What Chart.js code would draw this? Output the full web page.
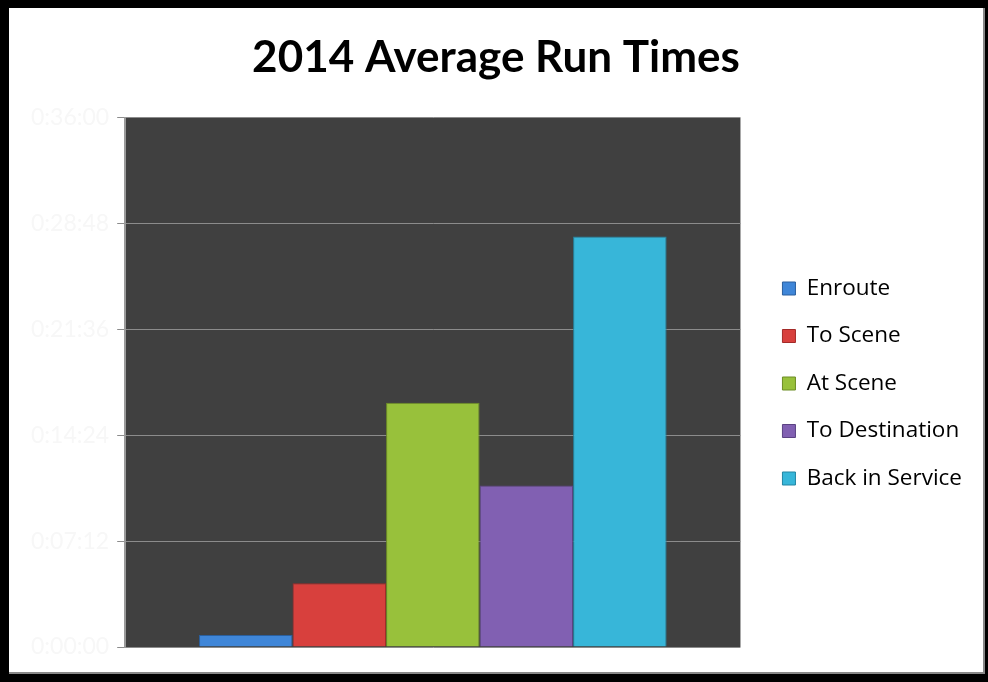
<!DOCTYPE html>
<html>
<head>
<meta charset="utf-8">
<script src="https://cdn.jsdelivr.net/npm/chart.js@4.4.1/dist/chart.umd.min.js"></script>
<style>
  html, body { margin: 0; padding: 0; background: #000; }
  body { width: 988px; height: 682px; position: relative; overflow: hidden; }
  #frame {
    position: absolute; left: 9px; top: 8px; width: 976px; height: 666px;
    background: #fff; box-shadow: inset -2px -2px 0 #888;
  }
  #chart { display: block; }
</style>
</head>
<body>
<div id="frame"><canvas id="chart" width="976" height="666"></canvas></div>
<script>
/* global Chart */

// run-time phases, values in seconds
const categories = ['2014'];
const seriesNames = ['Enroute', 'To Scene', 'At Scene', 'To Destination', 'Back in Service'];
const seriesValues = [49, 260, 997, 659, 1676];
const seriesColors = ['#3f86d8', '#d8403d', '#98c13b', '#8160b2', '#37b6d9'];
const seriesEdges = ['#2a5f9e', '#a32a28', '#6d8d25', '#5b4283', '#2285a3'];
const tickLabels = ['0:00:00', '0:07:12', '0:14:24', '0:21:36', '0:28:48', '0:36:00'];
const tickStep = 432;

function fmt(sec) {
  const h = Math.floor(sec / 3600);
  const m = Math.floor((sec % 3600) / 60);
  const s = Math.round(sec % 60);
  return h + ':' + String(m).padStart(2, '0') + ':' + String(s).padStart(2, '0');
}

/* horizontal shading so the bars read a bit like the bevelled originals */
function bevel(i) {
  return (ctx) => {
    const { chart } = ctx;
    const el = ctx.element;
    if (!el || !chart.chartArea || el.x === undefined) return seriesColors[i];
    const w = el.width || 90;
    const g = chart.ctx.createLinearGradient(el.x - w / 2, 0, el.x + w / 2, 0);
    g.addColorStop(0, seriesEdges[i]);
    g.addColorStop(0.08, seriesColors[i]);
    g.addColorStop(0.92, seriesColors[i]);
    g.addColorStop(1, seriesEdges[i]);
    return g;
  };
}

const datasets = seriesNames.map((name, i) => ({
  label: name,
  data: [seriesValues[i]],
  backgroundColor: bevel(i),
  borderColor: seriesEdges[i],
  borderWidth: 1,
  categoryPercentage: 0.76,
  barPercentage: 1,
}));

/* widen the legend block so the plot stops where the original does,
   then nudge the legend items to the original's spot */
const legendPad = {
  id: 'legendPad',
  beforeInit(chart) {
    const fit = chart.legend.fit;
    chart.legend.fit = function () {
      fit.call(this);
      this.width += 14;
    };
  },
  afterLayout(chart) {
    const lg = chart.legend;
    lg.top += 51; lg.bottom += 51;
    lg.left += 17; lg.right += 17;
  },
};

const plotBg = {
  id: 'plotBg',
  beforeDraw(chart) {
    const { ctx, chartArea: a } = chart;
    ctx.save();
    ctx.fillStyle = '#404040';
    ctx.fillRect(a.left, a.top, a.right - a.left, a.bottom - a.top);
    ctx.restore();
  },
};

new Chart(document.getElementById('chart'), {
  type: 'bar',
  data: { labels: categories, datasets },
  plugins: [legendPad, plotBg],
  options: {
    responsive: false,
    animation: false,
    layout: { padding: { left: 14, right: 16, top: 10, bottom: 27 } },
    plugins: {
      title: {
        display: true,
        text: '2014 Average Run Times',
        color: '#000',
        font: { family: 'Lato, "Open Sans", sans-serif', size: 44, weight: 'bold' },
        padding: { top: 13, bottom: 34 },
      },
      legend: {
        position: 'right',
        align: 'center',
        labels: {
          color: '#1a1a1a',
          font: { family: '"Open Sans", Lato, sans-serif', size: 22.5 },
          boxWidth: 13,
          boxHeight: 13,
          padding: 25,
          generateLabels(chart) {
            return chart.data.datasets.map((ds, i) => ({
              text: ds.label,
              fillStyle: seriesColors[i],
              strokeStyle: seriesEdges[i],
              lineWidth: 1,
              datasetIndex: i,
              hidden: false,
            }));
          },
        },
      },
      tooltip: { enabled: false },
    },
    scales: {
      x: {
        display: false,
        grid: { display: false },
      },
      y: {
        min: 0,
        max: tickStep * (tickLabels.length - 1),
        ticks: {
          stepSize: tickStep,
          color: '#f7f7f7',
          font: { family: 'Lato, sans-serif', size: 23 },
          padding: 8,
          callback: (v) => fmt(v),
        },
        grid: { color: '#8c8c8c', tickLength: 8, tickColor: '#8c8c8c' },
        border: { color: '#9a9a9a', width: 2 },
      },
    },
  },
});
</script>
</body>
</html>
